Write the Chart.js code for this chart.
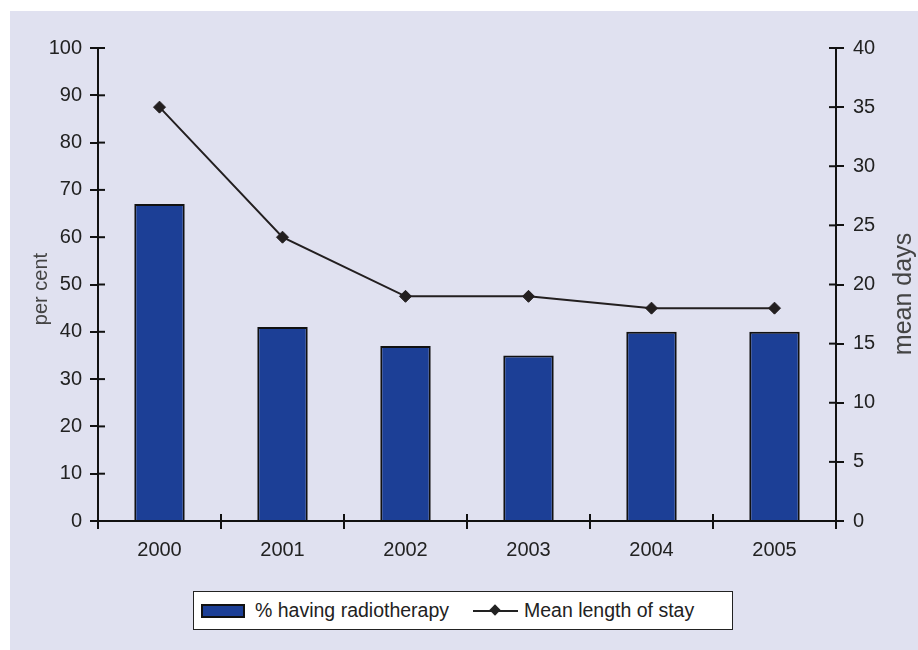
<!DOCTYPE html>
<html>
<head>
<meta charset="utf-8">
<script src="https://cdn.jsdelivr.net/npm/chart.js@4.4.0/dist/chart.umd.min.js"></script>
<style>
  body { margin: 0; background: #fff; font-family: "Liberation Sans", Arial, sans-serif; }
  #panel { position: absolute; left: 10px; top: 11px; width: 908px; height: 639px; background: #e0e1f0; }
  #chart { position: absolute; left: 0; top: 0; }
  #legend { position: absolute; left: 183px; top: 580px; width: 538px; height: 37px;
            border: 1.5px solid #222; background: #fff; font-size: 19.5px; color: #222; }
  #legend .item { position: absolute; top: 0; height: 37px; line-height: 37px; white-space: nowrap; }
  .swatch { position: absolute; top: 12px; width: 40px; height: 10px; background: #1c3f96; border: 2px solid #111; }
  .lineicon { position: absolute; top: 18px; width: 45px; height: 2px; background: #222; }
  .diamond { position: absolute; top: -4px; left: 18px; width: 8px; height: 8px; background: #222; transform: rotate(45deg); }
</style>
</head>
<body>
<div id="panel">
  <canvas id="chart" width="908" height="639"></canvas>
  <div id="legend">
    <div class="item" style="left:7px"><span class="swatch"></span></div>
    <div class="item" style="left:61px">% having radiotherapy</div>
    <div class="item" style="left:279px"><span class="lineicon"><span class="diamond"></span></span></div>
    <div class="item" style="left:330px">Mean length of stay</div>
  </div>
</div>
<script>
var years = ["2000", "2001", "2002", "2003", "2004", "2005"];
var radiotherapy = [67, 41, 37, 35, 40, 40];
var meanStay = [35, 24, 19, 19, 18, 18];

var textColor = '#222';
var fontFamily = '"Liberation Sans", Arial, sans-serif';

// ticks in the reference cross the axis, chart.js only draws the outer half
var innerTicks = {
    id: 'innerTicks',
    afterDraw: function (chart) {
        var ctx = chart.ctx, a = chart.chartArea;
        var x = chart.scales.x, y = chart.scales.y, y1 = chart.scales.y1;
        ctx.save();
        ctx.strokeStyle = '#111';
        ctx.lineWidth = 2;
        function seg(x0, y0, x2, y2) {
            ctx.beginPath(); ctx.moveTo(x0, y0); ctx.lineTo(x2, y2); ctx.stroke();
        }
        y.ticks.forEach(function (t, i) {
            var p = y.getPixelForTick(i);
            seg(a.left, p, a.left + 7, p);
        });
        y1.ticks.forEach(function (t, i) {
            var p = y1.getPixelForTick(i);
            seg(a.right - 7, p, a.right, p);
        });
        var w = x.getPixelForValue(1) - x.getPixelForValue(0);
        for (var i = 0; i <= years.length; i++) {
            var px = x.getPixelForValue(0) - w / 2 + i * w;
            seg(px, a.bottom - 7, px, a.bottom);
        }
        // axis titles, both read bottom to top
        ctx.fillStyle = '#444';
        ctx.textAlign = 'center';
        ctx.textBaseline = 'middle';
        ctx.save();
        ctx.font = '20px ' + fontFamily;
        ctx.translate(31, 278);
        ctx.rotate(-Math.PI / 2);
        ctx.fillText('per cent', 0, 0);
        ctx.restore();
        ctx.font = '25px ' + fontFamily;
        ctx.translate(894, 283);
        ctx.rotate(-Math.PI / 2);
        ctx.fillText('mean days', 0, 0);
        ctx.restore();
    }
};

var ctx = document.getElementById("chart").getContext('2d');
var myChart = new Chart(ctx, {
    type: 'bar',
    data: {
        labels: years,
        datasets: [{
            type: 'line',
            label: 'Mean length of stay',
            data: meanStay,
            yAxisID: 'y1',
            borderColor: '#231f20',
            borderWidth: 2,
            pointStyle: 'rectRot',
            pointRadius: 6,
            pointBackgroundColor: '#231f20',
            pointBorderColor: '#231f20',
            pointBorderWidth: 1,
            tension: 0,
            order: 0
        }, {
            label: '% having radiotherapy',
            data: radiotherapy,
            yAxisID: 'y',
            backgroundColor: '#1c3f96',
            borderColor: '#111',
            borderWidth: 2,
            barPercentage: 0.41,
            categoryPercentage: 1.0,
            order: 1
        }]
    },
    options: {
        responsive: false,
        animation: false,
        devicePixelRatio: 1,
        layout: { padding: { top: 37, left: 0, right: 0, bottom: 0 } },
        plugins: {
            legend: { display: false },
            tooltip: { enabled: false }
        },
        scales: {
            x: {
                grid: { offset: true, drawOnChartArea: false, color: '#111', lineWidth: 2, tickLength: 8 },
                border: { color: '#111', width: 2 },
                ticks: { color: textColor, font: { size: 20, family: fontFamily }, padding: 9 },
                afterFit: function (s) { s.height = 129; }
            },
            y: {
                position: 'left',
                min: 0, max: 100,
                ticks: { stepSize: 10, color: textColor, font: { size: 20, family: fontFamily }, padding: 8 },
                grid: { drawOnChartArea: false, color: '#111', lineWidth: 2, tickLength: 8 },
                border: { color: '#111', width: 2 },
                afterFit: function (s) { s.width = 88; }
            },
            y1: {
                position: 'right',
                min: 0, max: 40,
                ticks: { stepSize: 5, color: textColor, font: { size: 20, family: fontFamily }, padding: 9 },
                grid: { drawOnChartArea: false, color: '#111', lineWidth: 2, tickLength: 8 },
                border: { color: '#111', width: 2 },
                afterFit: function (s) { s.width = 82; }
            }
        }
    },
    plugins: [innerTicks]
});
</script>
</body>
</html>
